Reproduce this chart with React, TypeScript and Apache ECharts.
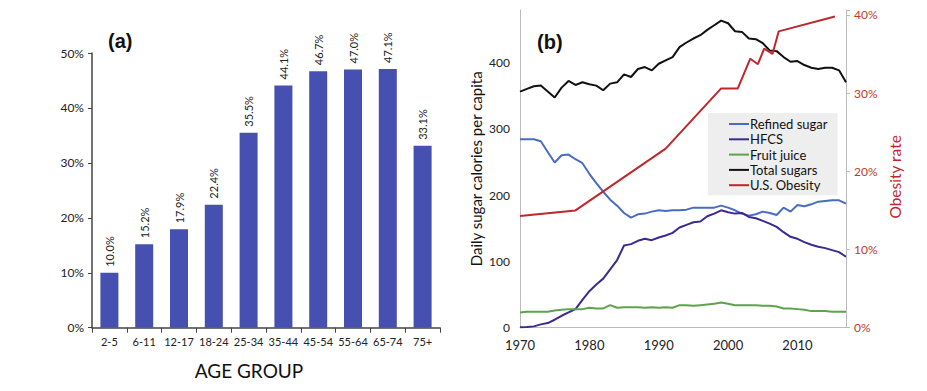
import React, { useEffect, useRef } from "react";
import * as echarts from "echarts";

const ageGroups = ["2-5", "6-11", "12-17", "18-24", "25-34", "35-44", "45-54", "55-64", "65-74", "75+"];
const obesityByAge = [10.0, 15.2, 17.9, 22.4, 35.5, 44.1, 46.7, 47.0, 47.1, 33.1];
const pctTicks = [0, 10, 20, 30, 40, 50];

const years = Array.from({ length: 48 }, (_, i) => 1970 + i);
const refinedSugar = [284, 284, 284, 281, 265, 249, 260, 261, 254, 248, 232, 218, 205, 193, 184, 173, 166, 171, 172, 175, 177, 176, 177, 177, 178, 181, 181, 181, 181, 184, 181, 177, 172, 169, 171, 175, 173, 170, 181, 175, 185, 183, 186, 190, 191, 192, 192, 187];
const hfcs = [0.5, 1, 2, 5, 7, 12, 18, 23, 28, 42, 55, 65, 74, 88, 102, 124, 126, 131, 134, 132, 136, 139, 143, 151, 155, 159, 160, 168, 172, 177, 174, 172, 173, 167, 165, 161, 157, 152, 144, 137, 134, 129, 125, 122, 120, 117, 114, 107];
const fruitJuice = [23, 24, 24, 24, 24, 26, 27, 28, 28, 28, 30, 29, 29, 34, 30, 31, 31, 31, 30, 31, 30, 31, 30, 34, 34, 33, 34, 35, 36, 38, 36, 34, 34, 34, 34, 33, 33, 32, 29, 29, 28, 27, 25, 25, 25, 24, 24, 24];
const totalSugars = [356, 360, 364, 365, 356, 347, 362, 372, 366, 370, 367, 365, 358, 368, 370, 382, 378, 390, 393, 388, 398, 403, 408, 423, 430, 436, 441, 449, 456, 463, 459, 447, 446, 436, 435, 429, 418, 417, 408, 401, 402, 396, 392, 390, 392, 392, 388, 370];
const obesityYears = [1970, 1978, 1991, 1999, 2001.4, 2003.2, 2004.3, 2005.2, 2006.4, 2007.3, 2015.4];
const obesityRates = [14.3, 15.0, 22.9, 30.6, 30.6, 34.4, 33.7, 35.7, 35.0, 37.9, 39.8];
const calorieTicks = [0, 100, 200, 300, 400];
const yearTicks = [1970, 1980, 1990, 2000, 2010];
const rateTicks = [0, 10, 20, 30, 40];

const FONT = "Lato, 'Open Sans', sans-serif";

export default function App() {
  const ref = useRef<HTMLDivElement>(null);
  useEffect(() => {
    document.body.style.margin = "0";
    if (!ref.current) return;
    const chart = echarts.init(ref.current, undefined, { renderer: "svg" });
    const pair = (ys: number[]) => years.map((y, i) => [y, ys[i]]);
    const lineSeries = (name: string, data: number[], color: string) => ({
      name,
      type: "line",
      xAxisIndex: 1,
      yAxisIndex: 1,
      data: pair(data),
      symbol: "none",
      lineStyle: { color, width: 2 },
      itemStyle: { color },
    });
    chart.setOption({
      animation: false,
      textStyle: { fontFamily: FONT },
      grid: [
        { left: 92, top: 53, width: 348, height: 274.7 },
        { left: 520, top: 10, width: 326, height: 317.7 },
      ],
      xAxis: [
        {
          type: "category",
          gridIndex: 0,
          data: ageGroups,
          axisLine: { lineStyle: { color: "#444", width: 1.5 } },
          axisTick: { show: true, length: 5, lineStyle: { color: "#444" } },
          axisLabel: { interval: 0, fontSize: 11, color: "#222", margin: 8, fontFamily: FONT },
        },
        {
          type: "value",
          gridIndex: 1,
          min: 1970,
          max: 2017,
          interval: 10,
          splitLine: { show: false },
          axisLine: { show: true, lineStyle: { color: "#bbb" } },
          axisTick: { show: false },
          axisLabel: {
            fontSize: 13,
            color: "#222",
            margin: 11,
            fontFamily: FONT,
            formatter: (v: number) => (yearTicks.includes(v) ? String(v) : ""),
          },
        },
      ],
      yAxis: [
        {
          type: "value",
          gridIndex: 0,
          min: pctTicks[0],
          max: pctTicks[pctTicks.length - 1],
          interval: 10,
          splitLine: { show: false },
          axisLine: { show: true, lineStyle: { color: "#444", width: 1.5 } },
          axisTick: { show: true, length: 4, lineStyle: { color: "#444" } },
          axisLabel: { fontSize: 12, color: "#222", margin: 8, formatter: "{value}%", fontFamily: FONT },
        },
        {
          type: "value",
          gridIndex: 1,
          min: 0,
          max: 479,
          interval: 100,
          splitLine: { show: false },
          axisLine: { show: true, lineStyle: { color: "#bbb" } },
          axisTick: { show: false },
          axisLabel: {
            fontSize: 12,
            color: "#222",
            margin: 10,
            fontFamily: FONT,
            formatter: (v: number) => (calorieTicks.includes(v) ? String(v) : ""),
          },
          name: "Daily sugar calories per capita",
          nameLocation: "middle",
          nameRotate: 90,
          nameGap: 37,
          nameTextStyle: { fontSize: 15, color: "#111", fontFamily: FONT },
        },
        {
          type: "value",
          gridIndex: 1,
          position: "right",
          min: 0,
          max: 40.63,
          interval: 10,
          splitLine: { show: false },
          axisLine: { show: true, lineStyle: { color: "#bbb" } },
          axisTick: { show: true, length: 4, lineStyle: { color: "#bbb" } },
          axisLabel: {
            fontSize: 12,
            color: "#c0392b",
            margin: 8,
            fontFamily: FONT,
            formatter: (v: number) => (rateTicks.includes(v) ? v + "%" : ""),
          },
          name: "Obesity rate",
          nameLocation: "middle",
          nameRotate: 90,
          nameGap: 41,
          nameTextStyle: { fontSize: 15.5, color: "#c0272d", fontFamily: FONT, padding: [0, 16, 0, 0] },
        },
      ],
      legend: {
        left: 708,
        top: 113,
        orient: "vertical",
        backgroundColor: "#eeeeee",
        padding: [4, 10, 3, 21],
        itemWidth: 20,
        itemHeight: 2,
        itemGap: 1.3,
        icon: "rect",
        textStyle: { fontSize: 13, color: "#111", lineHeight: 14, fontFamily: FONT, padding: [0, 0, 0, -4] },
        data: ["Refined sugar", "HFCS", "Fruit juice", "Total sugars", "U.S. Obesity"],
      },
      graphic: [
        { type: "text", left: 108, top: 31, style: { text: "(a)", font: "bold 20px Arial, 'Liberation Sans', sans-serif", fill: "#111" } },
        { type: "text", left: 537, top: 32, style: { text: "(b)", font: "bold 20px Arial, 'Liberation Sans', sans-serif", fill: "#111" } },
        { type: "text", x: 249, y: 370, style: { text: "AGE GROUP", font: "19px " + FONT, fill: "#111", align: "center", verticalAlign: "middle" } },
      ],
      series: [
        {
          type: "bar",
          xAxisIndex: 0,
          yAxisIndex: 0,
          data: obesityByAge,
          barWidth: 18,
          itemStyle: { color: "#4650b0" },
          label: {
            show: true,
            position: "top",
            rotate: 90,
            align: "left",
            verticalAlign: "middle",
            distance: 6,
            fontSize: 11,
            color: "#222",
            fontFamily: FONT,
            formatter: (p: any) => p.value.toFixed(1) + "%",
          },
        },
        lineSeries("Refined sugar", refinedSugar, "#4a6cc0"),
        lineSeries("HFCS", hfcs, "#3b2a8f"),
        lineSeries("Fruit juice", fruitJuice, "#5ea34c"),
        lineSeries("Total sugars", totalSugars, "#111111"),
        {
          name: "U.S. Obesity",
          type: "line",
          xAxisIndex: 1,
          yAxisIndex: 2,
          data: obesityYears.map((y, i) => [y, obesityRates[i]]),
          symbol: "none",
          lineStyle: { color: "#c0272d", width: 2 },
          itemStyle: { color: "#c0272d" },
        },
      ],
    });
    return () => chart.dispose();
  }, []);
  return <div ref={ref} style={{ width: 927, height: 391 }} />;
}
